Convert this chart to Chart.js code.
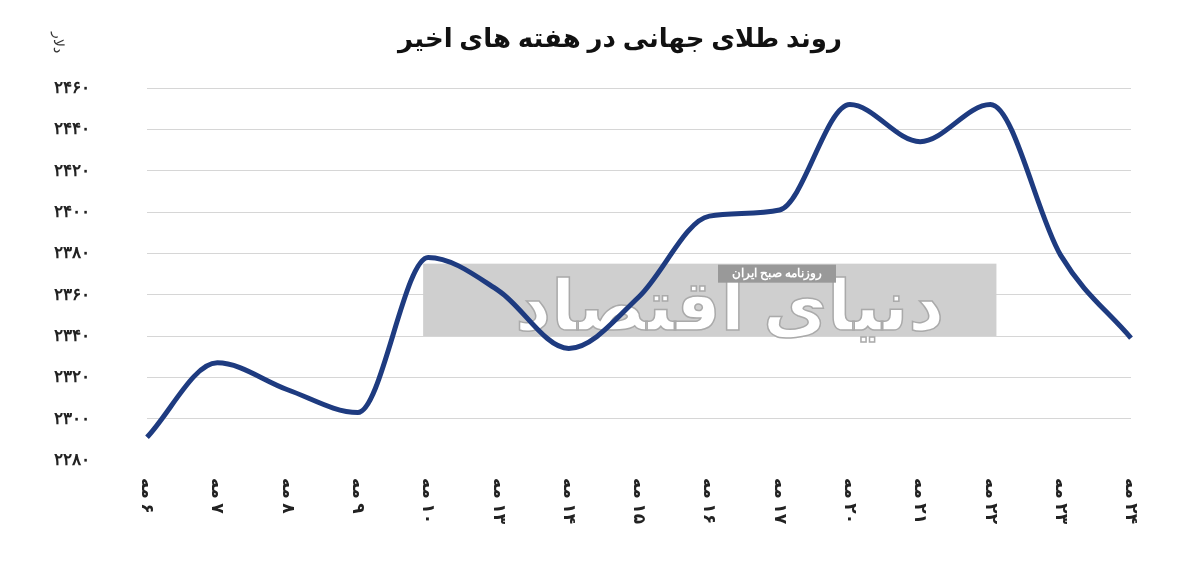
<!DOCTYPE html><html><head><meta charset="utf-8"><script src="https://cdn.jsdelivr.net/npm/chart.js@4"></script>
<style>body{margin:0;background:#fff}#w{width:1200px;height:567px;position:relative}</style></head><body><div id="w"><canvas id="c"></canvas></div>
<script>
const labels=["۶ مه","۷ مه","۸ مه","۹ مه","۱۰ مه","۱۳ مه","۱۴ مه","۱۵ مه","۱۶ مه","۱۷ مه","۲۰ مه","۲۱ مه","۲۲ مه","۲۳ مه","۲۴ مه"];
const prices=[2291,2327,2314,2303,2378,2362,2334,2359,2398,2401,2452,2434,2452,2379,2339];
const yMin=2280,yMax=2460,yStep=20;
const fa=n=>String(n).replace(/\d/g,d=>"۰۱۲۳۴۵۶۷۸۹"[d]);
const deco={id:'deco',beforeDatasetsDraw(ch){const c=ch.ctx,x=ch.scales.x,y=ch.scales.y;
 const x0=x.getPixelForValue(4)-5,x1=x.getPixelForValue(12)+6,y0=y.getPixelForValue(2375),y1=y.getPixelForValue(2340);
 c.save();c.fillStyle='#cfcfcf';c.fillRect(x0,y0,x1-x0,y1-y0);
 c.strokeStyle='#aaa';c.lineWidth=1.5;c.fillStyle='#fff';c.font='bold 70px "Noto Sans", "DejaVu Sans"';c.textAlign='center';c.textBaseline='middle';c.direction='rtl';
 c.fillText('دنیای اقتصاد',(x0+x1)/2+20,(y0+y1)/2+10);c.strokeText('دنیای اقتصاد',(x0+x1)/2+20,(y0+y1)/2+10);
 c.fillStyle='#999';c.fillRect(718,y0+1,118,18);
 c.font='bold 12px "Noto Sans"';c.fillStyle='#fff';c.fillText('روزنامه صبح ایران',777,y0+10);c.restore();},
 afterDraw(ch){const c=ch.ctx,x=ch.scales.x;c.save();c.font='bold 17px "Noto Sans", "DejaVu Sans"';c.fillStyle='#222';c.textBaseline='middle';
 labels.forEach((l,i)=>{c.save();c.translate(x.getPixelForValue(i),478);c.rotate(Math.PI/2);c.direction='rtl';c.textAlign='left';c.fillText(l,0,0);c.restore();});
 c.save();c.translate(58,42);c.rotate(Math.PI/2);c.font='14px "Noto Sans"';c.fillStyle='#333';c.textAlign='center';c.direction='rtl';c.fillText('دلار',0,0);c.restore();
 c.font='bold 26px "Noto Sans", "DejaVu Sans"';c.fillStyle='#111';c.textAlign='center';c.direction='rtl';c.fillText('روند طلای جهانی در هفته های اخیر',620,40);c.restore();}};
new Chart(document.getElementById('c'),{type:'line',data:{labels,datasets:[{data:prices,borderColor:'#1e3b80',borderWidth:5,pointRadius:0,tension:0.4,cubicInterpolationMode:'monotone',fill:false}]},
options:{responsive:true,maintainAspectRatio:false,animation:false,layout:{padding:{top:88,left:0,right:69,bottom:0}},
plugins:{legend:{display:false},tooltip:{enabled:false}},
scales:{x:{offset:false,grid:{display:false},border:{display:false},ticks:{display:false},afterFit(s){s.height=107;}},
y:{min:yMin,max:yMax,afterFit(s){s.width=147;},ticks:{stepSize:yStep,callback:v=>fa(v),color:'#222',font:{size:17,weight:'bold',family:'"Noto Sans"'},padding:57},grid:{color:c=>c.tick&&c.tick.value===yMin?'rgba(0,0,0,0)':'#d6d6d6',drawTicks:false},border:{display:false}}}},plugins:[deco]});
</script></body></html>
